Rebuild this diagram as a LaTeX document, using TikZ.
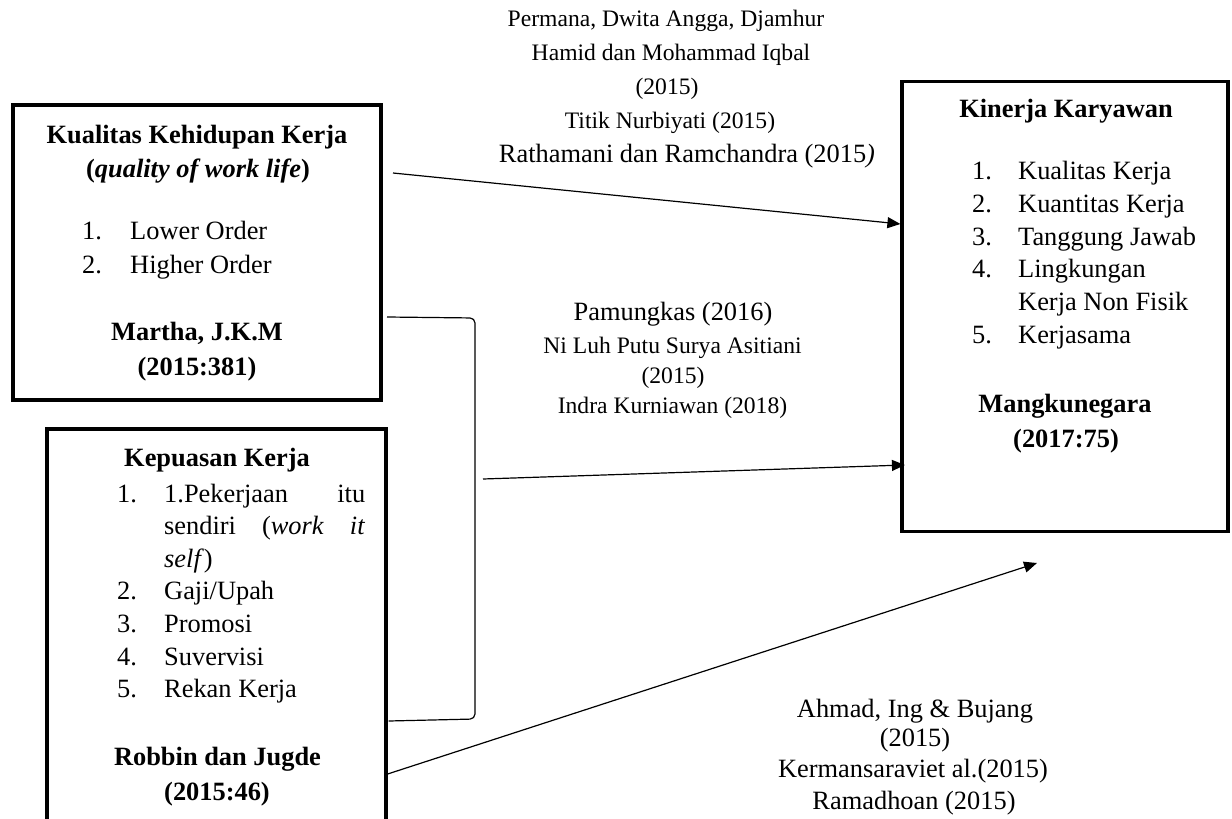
\documentclass[tikz,border=0pt]{standalone}
\usepackage{fontspec}
\setmainfont{Liberation Serif}
\usetikzlibrary{arrows.meta}
\begin{document}
\begin{tikzpicture}[x=1pt,y=-1pt,
  box/.style={draw,line width=3.2pt,inner sep=0pt},
  txt/.style={anchor=base,inner sep=0pt,font=\fontsize{26.4}{33}\selectfont},
  txtl/.style={txt,anchor=base west},
  sml/.style={anchor=base,inner sep=0pt,font=\fontsize{23.6}{30}\selectfont},
  conn/.style={line width=1.2pt},
  arr/.style={conn,-{Triangle[length=13pt,width=11pt]}}]
\useasboundingbox (0,0) rectangle (1232,819);
\clip (0,0) rectangle (1232,819);

% boxes
\node[box,minimum width=368pt,minimum height=295pt] (b1) at (197,252.5) {};
\node[box,minimum width=339pt,minimum height=431pt] (b2) at (216.5,644.5) {};
\node[box,minimum width=326pt,minimum height=450pt] (b3) at (1065,306.5) {};

% box 1 text
\node[txt] (b1t1) at (197,143) {\textbf{Kualitas Kehidupan Kerja}};
\node[txt] (b1t2) at (198,177) {\textbf{(\textit{quality of work life})}};
\node[txtl] (b1n1) at (82,239) {1.};
\node[txtl] (b1i1) at (130,239) {Lower Order};
\node[txtl] (b1n2) at (82,273) {2.};
\node[txtl] (b1i2) at (130,273) {Higher Order};
\node[txt] (b1r1) at (197,340) {\textbf{Martha, J.K.M}};
\node[txt] (b1r2) at (197,375) {\textbf{(2015:381)}};

% box 2 text
\node[txt] (b2t1) at (217,466) {\textbf{Kepuasan Kerja}};
\node[txtl] (b2n1) at (117,502) {1.};
\node[txtl] (b2i1a) at (164,502) {\makebox[201pt][s]{1.Pekerjaan itu}};
\node[txtl] (b2i1b) at (164,534) {\makebox[201pt][s]{sendiri (\textit{work} \textit{it}}};
\node[txtl] (b2i1c) at (164,567) {\textit{self})};
\node[txtl] (b2n2) at (117,599) {2.};
\node[txtl] (b2i2) at (164,599) {Gaji/Upah};
\node[txtl] (b2n3) at (117,632) {3.};
\node[txtl] (b2i3) at (164,632) {Promosi};
\node[txtl] (b2n4) at (117,665) {4.};
\node[txtl] (b2i4) at (164,665) {Suvervisi};
\node[txtl] (b2n5) at (117,697) {5.};
\node[txtl] (b2i5) at (164,697) {Rekan Kerja};
\node[txt] (b2r1) at (217.5,765) {\textbf{Robbin dan Jugde}};
\node[txt] (b2r2) at (217,800) {\textbf{(2015:46)}};

% box 3 text
\node[txt] (b3t1) at (1066,117) {\textbf{Kinerja Karyawan}};
\node[txtl] (b3n1) at (972,179) {1.};
\node[txtl] (b3i1) at (1018,179) {Kualitas Kerja};
\node[txtl] (b3n2) at (972,212) {2.};
\node[txtl] (b3i2) at (1018,212) {Kuantitas Kerja};
\node[txtl] (b3n3) at (972,245) {3.};
\node[txtl] (b3i3) at (1018,245) {Tanggung Jawab};
\node[txtl] (b3n4) at (972,277) {4.};
\node[txtl] (b3i4a) at (1018,277) {Lingkungan};
\node[txtl] (b3i4b) at (1018,310) {Kerja Non Fisik};
\node[txtl] (b3n5) at (972,343) {5.};
\node[txtl] (b3i5) at (1018,343) {Kerjasama};
\node[txt] (b3r1) at (1065,412) {\textbf{Mangkunegara}};
\node[txt] (b3r2) at (1066,447) {\textbf{(2017:75)}};

% top label
\node[sml] (l1a) at (666,26) {Permana, Dwita Angga, Djamhur};
\node[sml] (l1b) at (671,60) {Hamid dan Mohammad Iqbal};
\node[sml] (l1c) at (667,94) {(2015)};
\node[sml] (l1d) at (670,128) {Titik Nurbiyati (2015)};
\node[txt] (l1e) at (687,162) {Rathamani dan Ramchandra (2015\textit{)}};

% middle label
\node[txt] (l2a) at (673,320) {Pamungkas (2016)};
\node[sml] (l2b) at (672.5,353) {Ni Luh Putu Surya Asitiani};
\node[sml] (l2c) at (673,383) {(2015)};
\node[sml] (l2d) at (672.5,413) {Indra Kurniawan (2018)};

% bottom label
\node[txt] (l3a) at (915,717) {Ahmad, Ing \& Bujang};
\node[txt] (l3b) at (915,746) {(2015)};
\node[txt] (l3c) at (913,777) {Kermansaraviet al.(2015)};
\node[txt] (l3d) at (914,809) {Ramadhoan (2015)};

% connectors
\coordinate (a1s) at (393,173);
\coordinate (a2s) at (483,479);
\coordinate (a3e) at (1037,563);
\coordinate (k1) at (475,318);
\coordinate (k2) at (475,719);
\draw[arr] (a1s) -- ([yshift=82.5pt]b3.west);
\draw[arr] (a2s) -- ([xshift=4.5pt,yshift=-158.5pt]b3.west);
\draw[arr] ([yshift=-129.5pt]b2.east) -- (a3e);
\draw[conn,rounded corners=5pt] ([xshift=4.4pt,yshift=-64.5pt]b1.east) -- (k1) -- (k2) -- ([xshift=1pt,yshift=-76.5pt]b2.east);
\end{tikzpicture}
\end{document}
